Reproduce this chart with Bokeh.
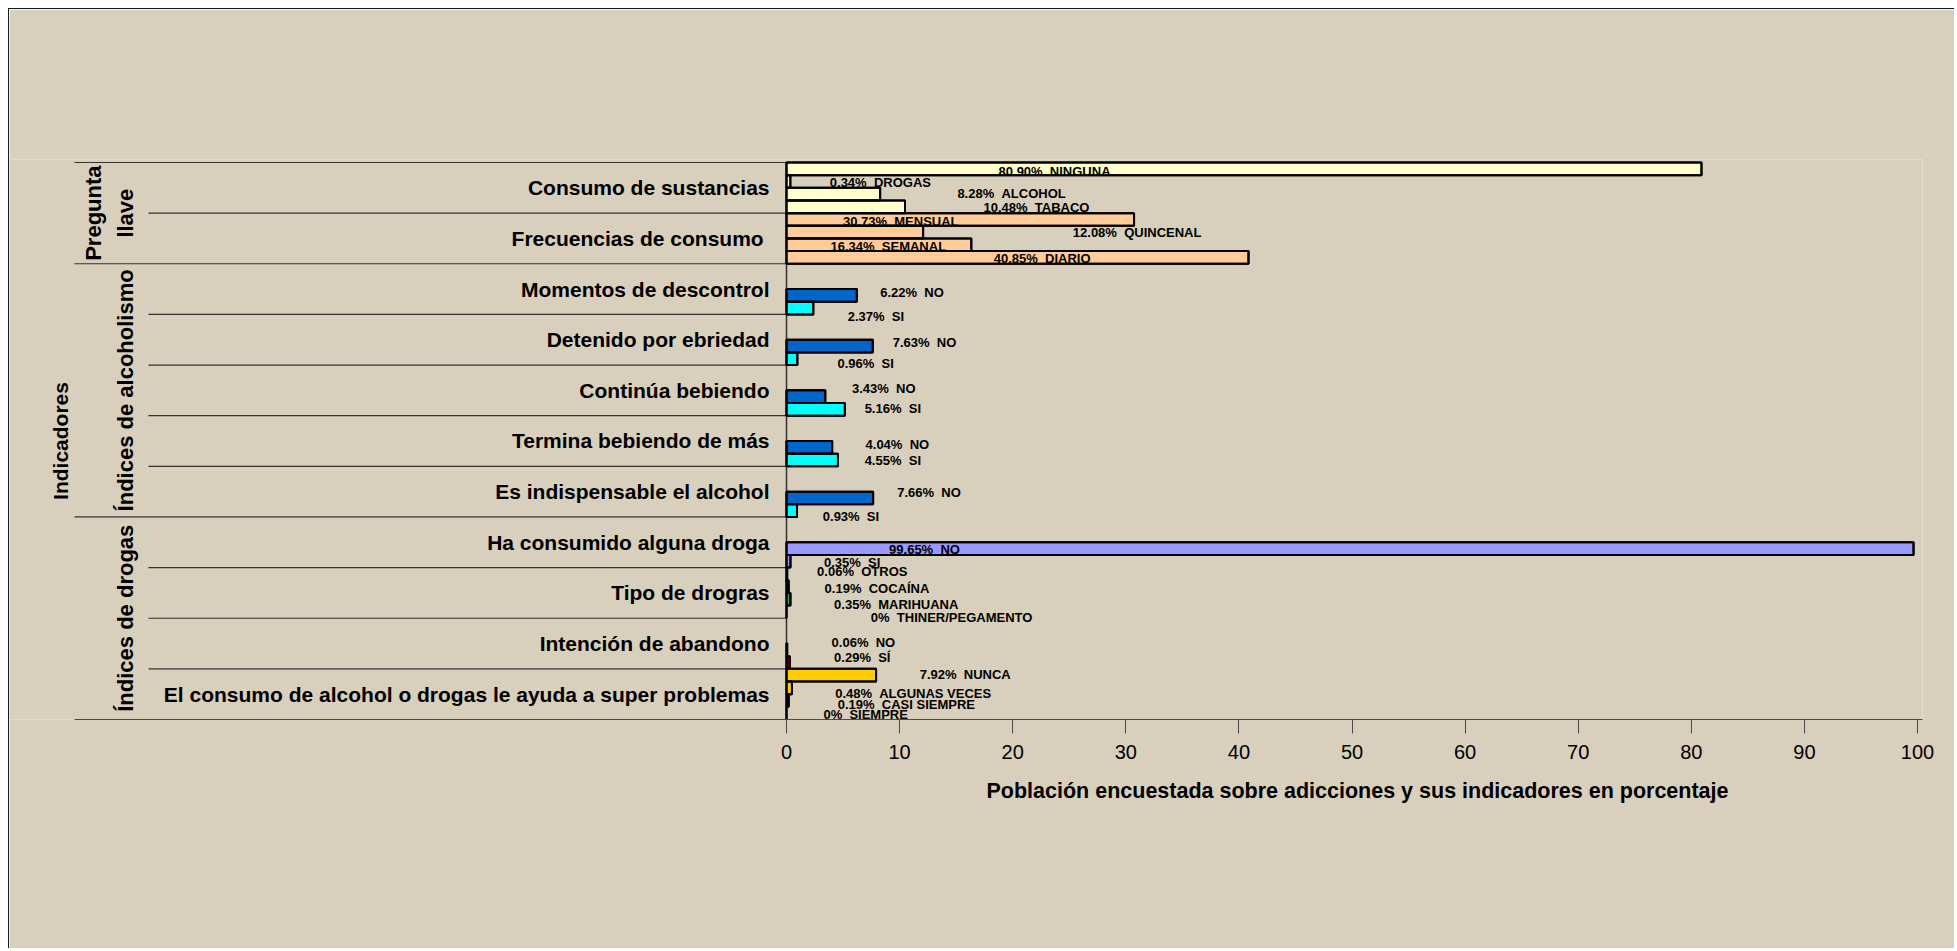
import math
from bokeh.plotting import figure
from bokeh.models import Range1d, LinearAxis, FixedTicker, Title, ColumnDataSource
from bokeh.core.properties import value
from bokeh.embed import file_html
from bokeh.resources import INLINE

# ---------------- data ----------------
categories = [
    "Consumo de sustancias",
    "Frecuencias de consumo ",
    "Momentos de descontrol",
    "Detenido por ebriedad",
    "Continúa bebiendo",
    "Termina bebiendo de más",
    "Es indispensable el alcohol",
    "Ha consumido alguna droga",
    "Tipo de drogras",
    "Intención de abandono",
    "El consumo de alcohol o drogas le ayuda a super problemas",
]
groups = ["Pregunta\nllave", "Índices de alcoholismo", "Índices de drogas"]
group_sizes = [2, 5, 4]
outer_label = "Indicadores"
x_title = "Población encuestada sobre adicciones y sus indicadores en porcentaje"
x_ticks = [0, 10, 20, 30, 40, 50, 60, 70, 80, 90, 100]

consumo_names = ["NINGUNA", "DROGAS", "ALCOHOL", "TABACO"]
consumo_values = [80.90, 0.34, 8.28, 10.48]
frecuencia_names = ["MENSUAL", "QUINCENAL", "SEMANAL", "DIARIO"]
frecuencia_values = [30.73, 12.08, 16.34, 40.85]
alcohol_answers = ["NO", "SI"]
alcohol_no = [6.22, 7.63, 3.43, 4.04, 7.66]
alcohol_si = [2.37, 0.96, 5.16, 4.55, 0.93]
droga_names = ["NO", "SI"]
droga_values = [99.65, 0.35]
tipo_names = ["OTROS", "COCAÍNA", "MARIHUANA", "THINER/PEGAMENTO"]
tipo_values = [0.06, 0.19, 0.35, 0.0]
abandono_names = ["NO", "SÍ"]
abandono_values = [0.06, 0.29]
ayuda_names = ["NUNCA", "ALGUNAS VECES", "CASI SIEMPRE", "SIEMPRE"]
ayuda_values = [7.92, 0.48, 0.19, 0.0]

# ---------------- styles / positions ----------------
BG = "#d8cfbc"
FONT = "Liberation Sans"
NO_COLOR, SI_COLOR = "#0066cc", "#00ffff"
series_colors = [
    ["#ffffcc"] * 4,
    ["#ffcc99"] * 4,
    [NO_COLOR, SI_COLOR], [NO_COLOR, SI_COLOR], [NO_COLOR, SI_COLOR],
    [NO_COLOR, SI_COLOR], [NO_COLOR, SI_COLOR],
    ["#9999ff", "#9999ff"],
    ["#666699", "#222222", "#33aa33", "#333333"],
    ["#222222", "#990000"],
    ["#ffcc00", "#ffcc00", "#333300", "#333333"],
]
# manual placement of each value label relative to its bar end (x, % units) and bar centre (y, bands)
label_dx = [-57.2, 7.96, 11.62, 11.62,
            -20.63, 18.92, -7.34, -18.25,
            4.88, 5.53, 4.57, 6.04, 5.17, 4.24, 5.76, 4.85, 4.94, 4.77,
            -87.45, 5.45,
            6.64, 7.81, 9.35, 14.6,
            6.74, 6.41,
            7.88, 10.72, 10.41, 7.0]
label_dy = [0.053, 0.02, -0.013, 0.014,
            0.04, 0.007, 0.034, 0.021,
            -0.058, 0.166, -0.071, 0.094, -0.162, -0.017, -0.056, 0.01, -0.108, 0.116,
            0.017, 0.024,
            -0.048, 0.037, 0.103, 0.11,
            -0.146, -0.100,
            -0.014, 0.111, 0.078, 0.025]
SEP = "\u00a0\u00a0"

W, H = 1946, 940
AXIS_PX = 777          # figure px of value 0
PX_PER_UNIT = 11.31
FRAME_W = 1913
FRAME_TOP = 150
TOP_PAD_PX = 3
BAND_PX = 50.64
FRAME_BOTTOM = FRAME_TOP + TOP_PAD_PX + BAND_PX * len(categories)
SLOTS = 4


def px(fig_x):
    """figure pixel column -> value units"""
    return (fig_x - AXIS_PX) / PX_PER_UNIT


# ---------------- assemble bars ----------------
series = [
    (consumo_names, consumo_values),
    (frecuencia_names, frecuencia_values),
]
for a_no, a_si in zip(alcohol_no, alcohol_si):
    series.append((alcohol_answers, [a_no, a_si]))
series += [
    (droga_names, droga_values),
    (tipo_names, tipo_values),
    (abandono_names, abandono_values),
    (ayuda_names, ayuda_values),
]

bar_y, bar_v, bar_c, lab_x, lab_y, lab_t = [], [], [], [], [], []
j = 0
for ci, (names, vals) in enumerate(series):
    n = len(names)
    for k, (nm, v) in enumerate(zip(names, vals)):
        slot = SLOTS - n + k
        yc = ci + (slot + 0.5) / SLOTS
        bar_y.append(yc)
        bar_v.append(v)
        bar_c.append(series_colors[ci][k])
        pct = f"{v:.2f}%" if v else "0%"
        lab_t.append(f"{pct}{SEP}{nm}")
        lab_x.append(v + label_dx[j])
        lab_y.append(yc + label_dy[j])
        j += 1

bars = ColumnDataSource(dict(y=bar_y, right=bar_v, color=bar_c))
labels = ColumnDataSource(dict(x=lab_x, y=lab_y, text=lab_t))

n_cat = len(categories)
p = figure(
    width=W, height=H,
    x_range=Range1d(px(0), px(FRAME_W)),
    y_range=Range1d(n_cat, -TOP_PAD_PX / BAND_PX),
    x_axis_type=None, y_axis_type=None,
    output_backend="svg", toolbar_location=None,
    min_border_left=0, min_border_right=W - FRAME_W,
    min_border_top=FRAME_TOP, min_border_bottom=int(round(H - FRAME_BOTTOM)),
)
p.background_fill_color = BG
p.border_fill_color = BG
p.outline_line_color = None
p.styles = {"margin-left": "8px", "margin-top": "8px",
            "border-left": "1px solid #1a1a1a", "border-top": "1px solid #1a1a1a"}

GROUP_LINE_X = px(65)
INNER_LINE_X = px(139)

# x axis
xaxis = LinearAxis(
    ticker=FixedTicker(ticks=x_ticks),
    bounds=(GROUP_LINE_X, px(FRAME_W)),
    major_tick_out=14, major_tick_in=0, minor_tick_out=0, minor_tick_in=0,
    axis_line_color="#4a4a4a", axis_line_width=1.2,
    major_tick_line_color="#4a4a4a",
    major_label_text_font=FONT, major_label_text_font_size="20px",
    major_label_text_color="black", major_label_standoff=11,
)
p.add_layout(xaxis, "below")
p.add_layout(Title(text=x_title, align="left", offset=977, text_font=FONT,
                   text_font_size="21.5px", text_font_style="bold", text_color="black",
                   standoff=31), "below")

# separator lines
bounds = [0]
for g in group_sizes:
    bounds.append(bounds[-1] + g)
inner = [b for b in range(1, n_cat) if b not in bounds]
p.segment(x0=GROUP_LINE_X, y0=bounds[:-1], x1=0, y1=bounds[:-1], line_color="#333333", line_width=1.2)
p.segment(x0=INNER_LINE_X, y0=inner, x1=0, y1=inner, line_color="#333333", line_width=1.2)
p.segment(x0=[0], y0=[0], x1=[0], y1=[n_cat], line_color="#333333", line_width=1.5)

# bars (fill), labels, then outlines on top
p.hbar(y="y", left=0, right="right", height=1 / SLOTS, fill_color="color",
       line_color="black", line_width=2, source=bars)
p.text(x="x", y="y", text="text", source=labels, text_align="center", text_baseline="middle",
       text_font=value(FONT), text_font_style="bold", text_font_size="13px", text_color="black")
p.hbar(y="y", left=0, right="right", height=1 / SLOTS, fill_alpha=0,
       line_color="black", line_width=2, source=bars)

# category labels
p.text(x=0, y=[i + 0.5 for i in range(n_cat)], text=categories, x_offset=-17,
       text_align="right", text_baseline="middle", text_font=value(FONT),
       text_font_style="bold", text_font_size="21px", text_color="black")

# group labels (rotated)
centers = [(bounds[i] + bounds[i + 1]) / 2 for i in range(len(groups))]
group_px = [100, 116, 116]
p.text(x=[px(g) for g in group_px], y=centers, text=groups, angle=math.pi / 2,
       text_align="center", text_baseline="middle", text_line_height=1.3,
       text_font=value(FONT), text_font_style="bold", text_font_size="22px", text_color="black")
p.text(x=[px(51)], y=[n_cat / 2], text=[outer_label], angle=math.pi / 2,
       text_align="center", text_baseline="middle",
       text_font=value(FONT), text_font_style="bold", text_font_size="21px", text_color="black")

open("out.html", "w").write(file_html(p, INLINE))
